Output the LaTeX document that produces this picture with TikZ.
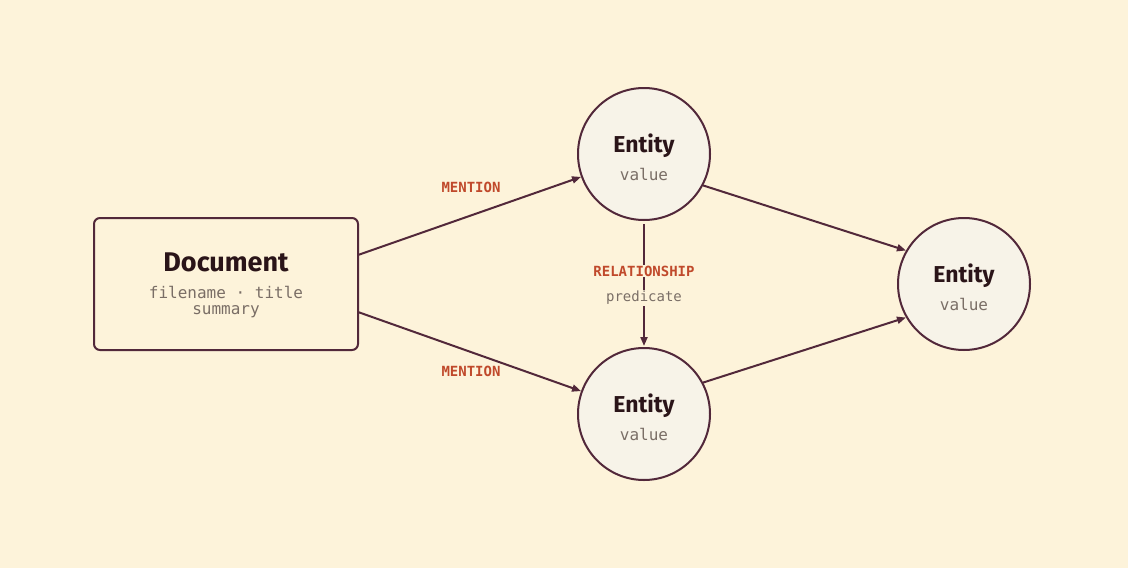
\documentclass[tikz,border=0pt]{standalone}
\usepackage{fontspec}
\setmainfont{Fira Sans}
\newfontfamily\monof{DejaVu Sans Mono}
\usetikzlibrary{arrows.meta}
\definecolor{bg}{HTML}{FDF3DA}
\definecolor{ink}{HTML}{52283A}
\definecolor{cfill}{HTML}{F7F3E8}
\definecolor{lab}{HTML}{C0492B}
\definecolor{gr}{HTML}{7A6E66}
\definecolor{tx}{HTML}{2A1418}
\begin{document}
\begin{tikzpicture}[x=1pt,y=-1pt,
  ent/.style={circle,draw=ink,line width=2pt,fill=cfill,minimum size=132pt,inner sep=0pt},
  conn/.style={draw=ink,line width=2pt,-{Triangle[length=9pt,width=7pt]}},
  elab/.style={text=lab,font=\monof\bfseries\fontsize{14}{16}\selectfont},
  sub/.style={text=gr,font=\monof\fontsize{16}{18}\selectfont}]
\fill[bg] (0,0) rectangle (1128,568);
\useasboundingbox (0,0) rectangle (1128,568);
\node[draw=ink,line width=2pt,rounded corners=6pt,fill=bg,minimum width=264pt,minimum height=132pt] (doc) at (226,284) {};
\node[text=tx,font=\fontsize{27}{30}\selectfont\bfseries] (dt) at (226,262) {Document};
\node[sub] (df) at (226,292) {filename · title};
\node[sub] (ds) at (226,312) {summary};
\node[ent] (e1) at (644,154) {};
\node[ent] (e2) at (644,414) {};
\node[ent] (e3) at (964,284) {};
\foreach \n/\x/\y in {e1/644/154,e2/644/414,e3/964/284}{
  \node[text=tx,font=\fontsize{23}{26}\selectfont\bfseries] (\n t) at (\x,\y-8) {Entity};
  \node[sub] (\n v) at (\x,\y+20) {value};
}
\coordinate (d1) at (358,255); \coordinate (d2) at (358,312);
\draw[conn] (d1) -- (e1.200);
\draw[conn] (d2) -- (e2.160);
\draw[conn] (e1.-28) -- (e3.150);
\draw[conn] (e2.28) -- (e3.210);
\coordinate (v1) at (644,224); \coordinate (v2) at (644,346);
\draw[conn] (v1) -- (v2);
\node[elab] (m1) at (471,187) {MENTION};
\node[elab] (m2) at (471,371) {MENTION};
\node[elab,fill=bg,inner sep=1pt] (r) at (644,271) {RELATIONSHIP};
\node[sub,font=\monof\fontsize{14}{16}\selectfont,fill=bg,inner sep=1pt] (p) at (644,298) {predicate};
\end{tikzpicture}
\end{document}
